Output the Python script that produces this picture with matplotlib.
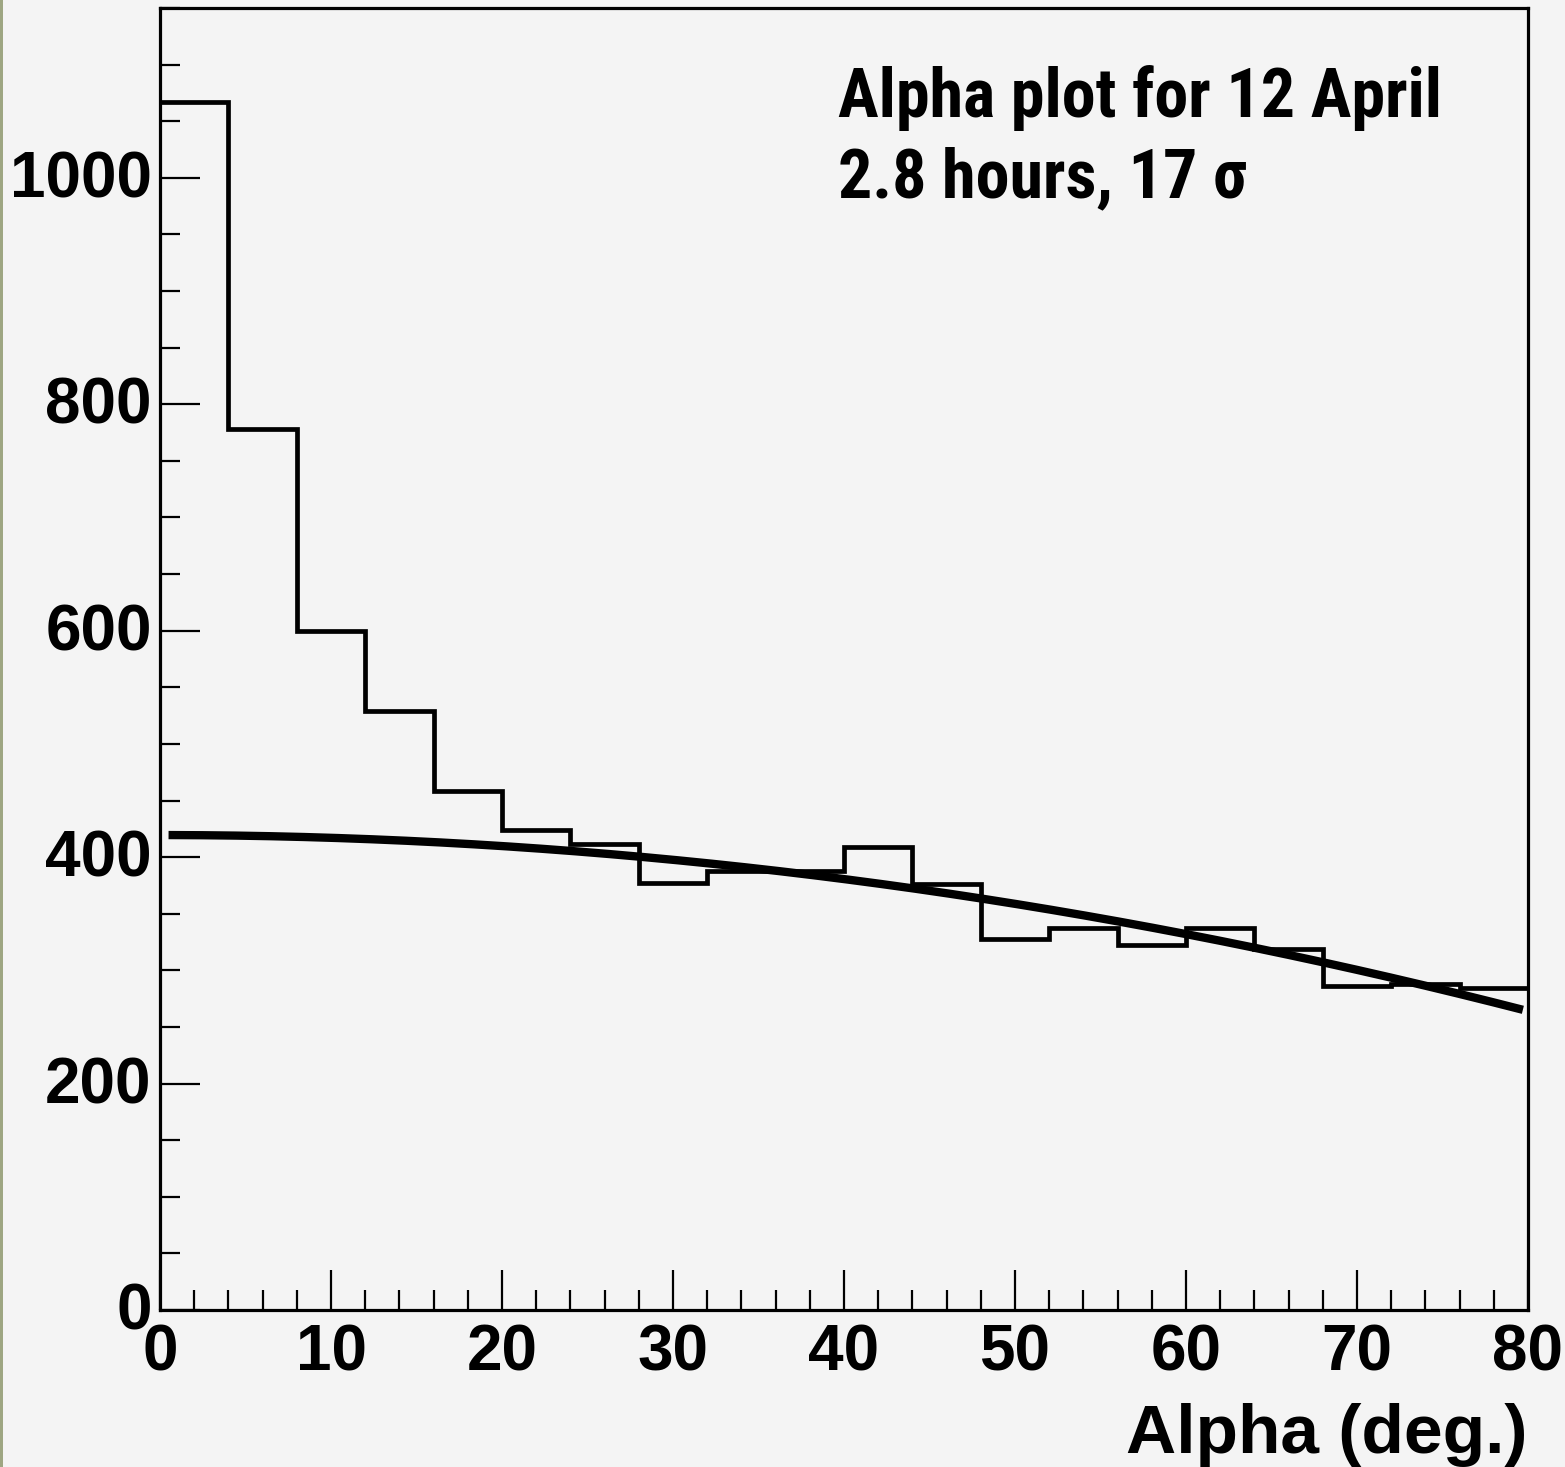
import numpy as np
import matplotlib
matplotlib.use("Agg")
import matplotlib.pyplot as plt
from matplotlib import font_manager
from matplotlib.ticker import MultipleLocator
from matplotlib.patches import Rectangle
from matplotlib.transforms import ScaledTranslation

# ---- data ----
bin_edges = [0, 4, 8, 12, 16, 20, 24, 28, 32, 36, 40, 44, 48, 52, 56, 60, 64, 68, 72, 76, 80]
counts = [1067, 778, 600, 529, 458, 424, 412, 377, 388, 388, 409, 376,
          328, 337, 322, 337, 319, 286, 288, 284]
# fitted background curve: p0 + p1*x + p2*x^2 over the fit range
fit_params = [419.5, 0.0, -0.0243]
fit_range = [0.5, 79.7]

x_ticks = [0, 10, 20, 30, 40, 50, 60, 70, 80]
y_ticks = [0, 200, 400, 600, 800, 1000]
x_label = "Alpha (deg.)"
note_lines = ["Alpha plot for 12 April", "2.8 hours, 17 \u03c3"]

# ---- fonts ----
available = {f.name for f in font_manager.fontManager.ttflist}
sans = "Liberation Sans" if "Liberation Sans" in available else "DejaVu Sans"
narrow = None
for cand in ["Liberation Sans Narrow", "DejaVu Sans Condensed", "Roboto Condensed", "Open Sans Condensed"]:
    if cand in available:
        narrow = cand
        break

bg = "#f4f4f4"
fig = plt.figure(figsize=(15.65, 14.67), dpi=100, facecolor=bg)
ax = fig.add_axes([160 / 1565, 1 - 1310 / 1467, (1528 - 160) / 1565, (1310 - 8) / 1467])
ax.set_facecolor(bg)

# left decorative strip
fig.patches.append(Rectangle((0, 0), 3 / 1565, 1, transform=fig.transFigure,
                             facecolor="#9ea682", edgecolor="none"))

ax.stairs(counts, bin_edges, baseline=None, color="black", linewidth=3.4, zorder=2)

xf = np.linspace(fit_range[0], fit_range[1], 400)
yf = fit_params[0] + fit_params[1] * xf + fit_params[2] * xf ** 2
ax.plot(xf, yf, color="black", linewidth=6.0, solid_capstyle="butt", zorder=3)

ax.set_xlim(0, 80)
ax.set_ylim(0, 1150)
for s in ["top", "right", "left", "bottom"]:
    ax.spines[s].set_linewidth(2.3)
    ax.spines[s].set_color("black")

ax.set_xticks(x_ticks)
ax.set_yticks(y_ticks)
ax.xaxis.set_minor_locator(MultipleLocator(2))
ax.yaxis.set_minor_locator(MultipleLocator(50))
ax.tick_params(axis="both", which="major", direction="in", length=29, width=1.6,
               top=False, right=False)
ax.tick_params(axis="both", which="minor", direction="in", length=14.5, width=1.6,
               top=False, right=False)
ax.tick_params(axis="x", which="major", pad=9.5)
ax.tick_params(axis="y", which="major", pad=6)
up = ScaledTranslation(0, 4 / 100, fig.dpi_scale_trans)
for lab in ax.get_xticklabels() + ax.get_yticklabels():
    lab.set_fontfamily(sans)
    lab.set_fontweight("bold")
    lab.set_fontsize(46)
for lab in ax.get_yticklabels():
    lab.set_transform(lab.get_transform() + up)

ax.set_xlabel(x_label, fontfamily=sans, fontweight="bold", fontsize=50, loc="right",
              labelpad=14)

note_font = dict(fontfamily=narrow if narrow else sans, fontweight="bold", fontsize=49)
if not narrow:
    note_font["fontsize"] = 38
ax.text(838 / 1565, 1 - 117 / 1467, note_lines[0], transform=fig.transFigure,
        ha="left", va="baseline", **note_font)
ax.text(838 / 1565, 1 - 197 / 1467, note_lines[1], transform=fig.transFigure,
        ha="left", va="baseline", **note_font)

fig.savefig("out.png", dpi=100, facecolor=bg)
